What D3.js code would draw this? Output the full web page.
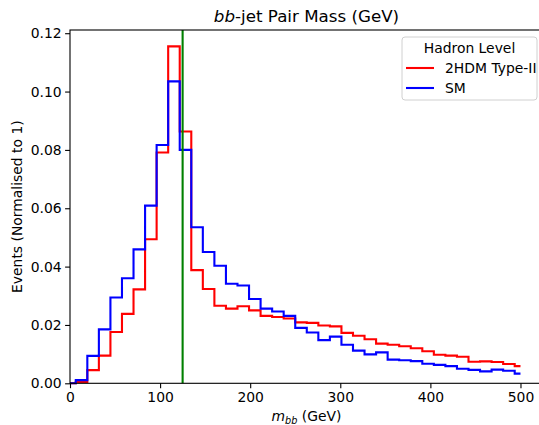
<!DOCTYPE html>
<html lang="en">
<head>
    <meta charset="UTF-8">
    <title>bb-jet Pair Mass</title>
    <script src="https://d3js.org/d3.v7.min.js"></script>
    <style>
        body { margin: 0; background: #fff; }
        svg { font-family: "DejaVu Sans", sans-serif; display: block; }
    </style>
</head>
<body>
    <svg width="539" height="425"></svg>
    <script type="text/javascript">
        // bin centres in m_bb (GeV)
        var massCentres = [0, 12.82, 25.64, 38.46, 51.28, 64.10, 76.92, 89.74, 102.56, 115.38,
            128.21, 141.03, 153.85, 166.67, 179.49, 192.31, 205.13, 217.95, 230.77, 243.59,
            256.41, 269.23, 282.05, 294.87, 307.69, 320.51, 333.33, 346.15, 358.97, 371.79,
            384.62, 397.44, 410.26, 423.08, 435.90, 448.72, 461.54, 474.36, 487.18, 500];

        var thdmEvents = [0, 0.0005, 0.0045, 0.0095, 0.0176, 0.0238, 0.0322, 0.0494, 0.0791, 0.1155,
            0.0863, 0.0388, 0.0323, 0.0266, 0.0256, 0.0264, 0.0250, 0.0231, 0.0227, 0.0222,
            0.0209, 0.0207, 0.0198, 0.0195, 0.0173, 0.0163, 0.0151, 0.0136, 0.0132, 0.0127,
            0.0120, 0.0110, 0.0098, 0.0095, 0.0091, 0.0074, 0.0075, 0.0073, 0.0066, 0.0059];

        var smEvents = [0, 0.0011, 0.0094, 0.0185, 0.0294, 0.0360, 0.0459, 0.0609, 0.0817, 0.1035,
            0.0800, 0.0535, 0.0450, 0.0403, 0.0341, 0.0335, 0.0289, 0.0256, 0.0246, 0.0231,
            0.0190, 0.0174, 0.0148, 0.0160, 0.0132, 0.0112, 0.0099, 0.0106, 0.0081, 0.0079,
            0.0076, 0.0067, 0.0063, 0.0059, 0.0050, 0.0046, 0.0041, 0.0047, 0.0043, 0.0033];

        var xTicks = [0, 100, 200, 300, 400, 500];
        var yTicks = [0, 0.02, 0.04, 0.06, 0.08, 0.10, 0.12];
        var higgsMass = 125;

        var series = [
            {name: "2HDM Type-II", color: "#ff0000", values: thdmEvents},
            {name: "SM", color: "#0000ff", values: smEvents}
        ];

        var margin = {top: 30, left: 70},
            plotW = 473,
            plotH = 353.3;

        var svg = d3.select("svg");
        var g = svg.append("g")
            .attr("transform", "translate(" + margin.left + "," + margin.top + ")");

        var x = d3.scaleLinear().domain([0, 525]).range([0, plotW]);
        var y = d3.scaleLinear().domain([0, 0.1211]).range([plotH, 0]);

        // step lines (matplotlib where='mid' == d3.curveStep)
        var line = d3.line()
            .x(function(d) { return x(d[0]); })
            .y(function(d) { return y(d[1]); })
            .curve(d3.curveStep);

        series.forEach(function(s) {
            g.append("path")
                .datum(massCentres.map(function(m, i) { return [m, s.values[i]]; }))
                .attr("fill", "none")
                .attr("stroke", s.color)
                .attr("stroke-width", 2.1)
                .attr("d", line);
        });

        // Higgs mass marker
        g.append("line")
            .attr("x1", x(higgsMass)).attr("x2", x(higgsMass))
            .attr("y1", 0).attr("y2", plotH)
            .attr("stroke", "#008000")
            .attr("stroke-width", 2.1);

        // axes
        var xAxis = g.append("g")
            .attr("transform", "translate(0," + plotH + ")")
            .call(d3.axisBottom(x).tickValues(xTicks).tickSize(4.9).tickPadding(3.5));
        var yAxis = g.append("g")
            .call(d3.axisLeft(y).tickValues(yTicks).tickFormat(d3.format(".2f")).tickSize(4.9).tickPadding(3.5));

        [xAxis, yAxis].forEach(function(a) {
            a.select(".domain").remove();
            a.selectAll("line").attr("stroke", "#000").attr("stroke-width", 1.1);
            a.selectAll("text")
                .attr("fill", "#000")
                .style("font-size", "13.9px")
                .style("font-family", "DejaVu Sans, sans-serif");
        });

        // spines
        g.append("rect")
            .attr("x", 0).attr("y", 0)
            .attr("width", plotW).attr("height", plotH)
            .attr("fill", "none")
            .attr("stroke", "#000")
            .attr("stroke-width", 1.1);

        // title
        var title = svg.append("text")
            .attr("x", margin.left + plotW / 2)
            .attr("y", 22)
            .attr("text-anchor", "middle")
            .style("font-size", "16.7px");
        title.append("tspan").style("font-style", "italic").text("bb");
        title.append("tspan").text("-jet Pair Mass (GeV)");

        // x label
        var xl = svg.append("text")
            .attr("x", margin.left + plotW / 2)
            .attr("y", 421)
            .attr("text-anchor", "middle")
            .style("font-size", "13.9px");
        xl.append("tspan").style("font-style", "italic").text("m");
        xl.append("tspan").attr("dy", 3).style("font-size", "9.7px").style("font-style", "italic").text("bb");
        xl.append("tspan").attr("dy", -3).text(" (GeV)");

        // y label
        svg.append("text")
            .attr("transform", "translate(22," + (margin.top + plotH / 2) + ") rotate(-90)")
            .attr("text-anchor", "middle")
            .style("font-size", "13.9px")
            .text("Events (Normalised to 1)");

        // legend
        var lg = svg.append("g").attr("transform", "translate(402,37)");
        lg.append("rect")
            .attr("width", 135).attr("height", 63)
            .attr("rx", 3)
            .attr("fill", "#fff").attr("fill-opacity", 0.8)
            .attr("stroke", "#d0d0d0");
        lg.append("text")
            .attr("x", 67.5).attr("y", 16)
            .attr("text-anchor", "middle")
            .style("font-size", "13.9px")
            .text("Hadron Level");
        series.forEach(function(s, i) {
            var yy = 31 + i * 20;
            lg.append("line")
                .attr("x1", 4).attr("x2", 32)
                .attr("y1", yy).attr("y2", yy)
                .attr("stroke", s.color).attr("stroke-width", 2.1);
            lg.append("text")
                .attr("x", 43).attr("y", yy + 5)
                .style("font-size", "13.9px")
                .text(s.name);
        });
    </script>
</body>
</html>
